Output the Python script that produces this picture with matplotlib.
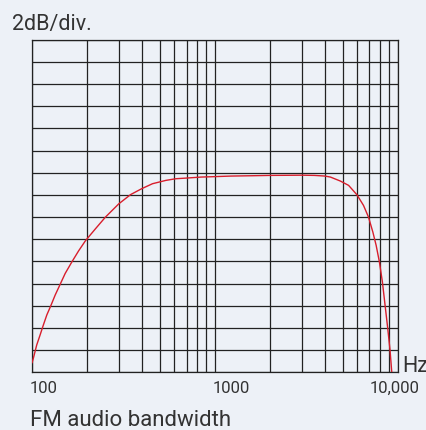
import matplotlib
matplotlib.use("Agg")
import matplotlib.pyplot as plt
import matplotlib.transforms as mtransforms
from matplotlib.ticker import FixedLocator, NullFormatter

# ---- data ----
freq_hz = [100, 101.7, 106.1, 110.7, 115.4, 120.5, 126.7, 133.9, 142.6, 151.9,
           165.4, 179.8, 195.7, 208.6, 222.2, 252.2, 298.5, 346.2, 398, 456,
           539.5, 612.4, 700, 841, 1000, 1226, 1600, 2000, 2500, 3000, 3500,
           4000, 4287, 4858, 5389, 5988, 6502, 6923, 7313, 7623, 7943, 8247,
           8531, 8825, 9082, 9278]
level_db = [0.85, 1.26, 2.46, 3.36, 4.27, 5.17, 6.0, 6.97, 7.94, 8.92,
            9.97, 10.95, 11.85, 12.4, 12.94, 14.0, 15.2, 16.03, 16.56, 17.01,
            17.31, 17.46, 17.52, 17.61, 17.65, 17.7, 17.73, 17.76, 17.77, 17.78, 17.76,
            17.7, 17.61, 17.25, 16.86, 16.01, 15.05, 14.0, 12.65, 11.45, 9.95, 8.15,
            6.04, 3.93, 1.98, 0.03]
tick_vals = [100, 1000, 10000]
tick_labels = ["100", "1000", "10,000"]
tick_align = ["left", "left", "center"]
minor_vals = [200, 300, 400, 500, 600, 700, 800, 900,
              2000, 3000, 4000, 5000, 6000, 7000, 8000, 9000]
y_divisions = 15
db_per_div = 2
title_text = "2dB/div."
unit_text = "Hz"
caption_text = "FM audio bandwidth"

BG = "#edf1f7"
GRID = "#222222"
TXT = "#333333"
RED = "#d81e2c"
FONT = "Roboto"

fig = plt.figure(figsize=(4.27, 4.30), dpi=100, facecolor=BG)
ax = fig.add_axes([32/427, 1-372.3/430, (397.7-32)/427, (372.3-39.7)/430])
ax.set_facecolor(BG)
ax.set_xscale("log")
ax.set_xlim(100, 10000)
ax.set_ylim(0, y_divisions * db_per_div)

ax.xaxis.set_major_locator(FixedLocator(tick_vals))
ax.xaxis.set_minor_locator(FixedLocator(minor_vals))
ax.xaxis.set_major_formatter(NullFormatter())
ax.xaxis.set_minor_formatter(NullFormatter())
ax.yaxis.set_major_locator(FixedLocator([i * db_per_div for i in range(y_divisions + 1)]))
ax.yaxis.set_major_formatter(NullFormatter())
ax.tick_params(which="both", length=0)
ax.grid(which="both", axis="both", color=GRID, lw=0.9)
for sp in ax.spines.values():
    sp.set_color(GRID)
    sp.set_linewidth(0.9)

ax.plot(freq_hz, level_db, color=RED, lw=1.0, solid_joinstyle="round",
        solid_capstyle="round", zorder=3, clip_on=True)

trans = mtransforms.blended_transform_factory(ax.transData, ax.transAxes)
for v, lab, ha in zip(tick_vals, tick_labels, tick_align):
    off = -2 if ha == "left" else -3
    t = mtransforms.offset_copy(trans, fig=fig, x=off, y=-9, units="dots")
    ax.text(v, 0, lab, transform=t, ha=ha, va="top", fontsize=12,
            color=TXT, family=FONT)

fig.text(12/427, 1-30/430, title_text, ha="left", va="baseline", fontsize=15.5,
         color=TXT, family=FONT)
fig.text(402/427, 1-372/430, unit_text, ha="left", va="baseline", fontsize=15.5,
         color=TXT, family=FONT)
fig.text(30/427, 1-426.5/430, caption_text, ha="left", va="baseline", fontsize=16,
         color=TXT, family=FONT)

fig.savefig("out.png", dpi=100, facecolor=BG)
